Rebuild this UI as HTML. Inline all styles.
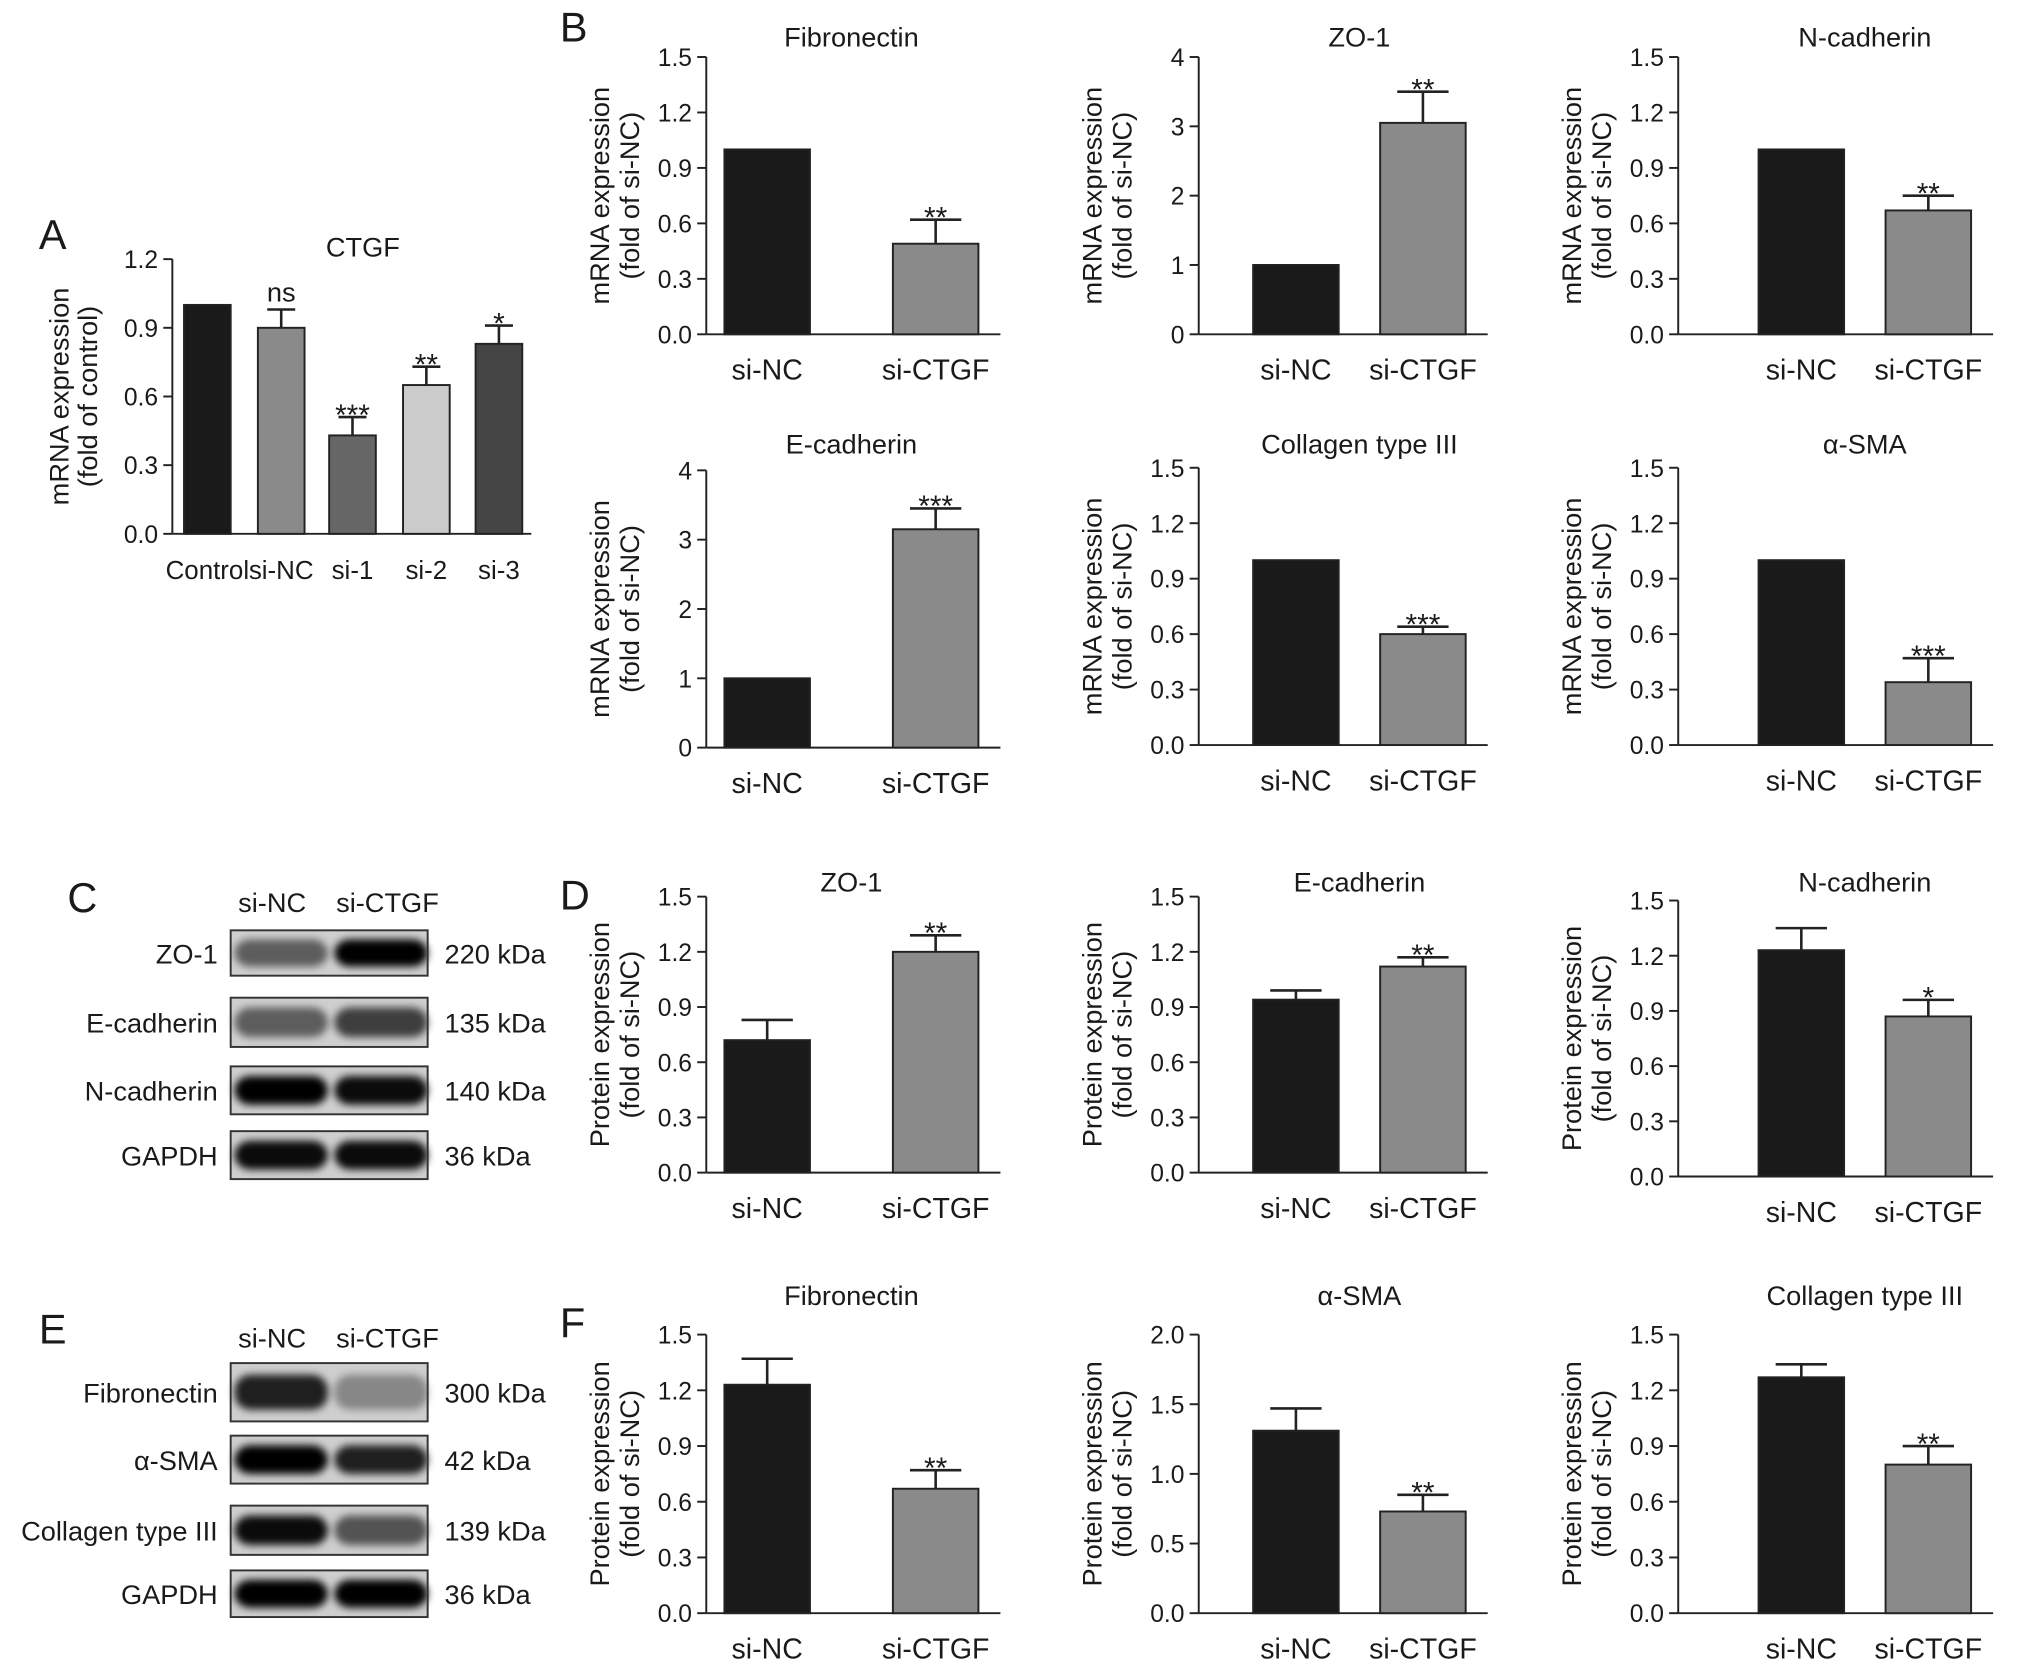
<!DOCTYPE html>
<html><head><meta charset="utf-8"><style>
html,body{margin:0;padding:0;background:#fff}
svg{display:block;font-family:"Liberation Sans",sans-serif}
</style></head><body>
<svg id="fig" width="2032" height="1665" viewBox="0 0 1568 1285" preserveAspectRatio="none">
<defs>
<filter id="blur" x="-20%" y="-50%" width="140%" height="200%"><feGaussianBlur stdDeviation="3"/></filter>
</defs>
</svg>
<script>
// Panel A data
const aCats=["Control","si-NC","si-1","si-2","si-3"];
const aVals=[1.0,0.9,0.43,0.65,0.83];
const aErr=[0,0.08,0.08,0.08,0.08];
const aStars=["","ns","***","**","*"];
const aColors=["#1a1a1a","#8a8a8a","#666","#cbcbcb","#454545"];
const aTicks=["0.0","0.3","0.6","0.9","1.2"];
// Two-group panels
const twoCats=["si-NC","si-CTGF"];
const pTitles=["Fibronectin","ZO-1","N-cadherin","E-cadherin","Collagen type III","α-SMA","ZO-1","E-cadherin","N-cadherin","Fibronectin","α-SMA","Collagen type III"];
const pNC=[1,1,1,1,1,1,0.72,0.94,1.23,1.23,1.31,1.27];
const pNCerr=[0,0,0,0,0,0,0.11,0.05,0.12,0.14,0.16,0.07];
const pKD=[0.49,3.05,0.67,3.15,0.6,0.34,1.2,1.12,0.87,0.67,0.73,0.8];
const pKDerr=[0.13,0.45,0.08,0.3,0.04,0.13,0.09,0.05,0.09,0.1,0.12,0.1];
const pStars=["**","**","**","***","***","***","**","**","*","**","**","**"];
const pMax=[1.5,4,1.5,4,1.5,1.5,1.5,1.5,1.5,1.5,2.0,1.5];
const pStep=[0.3,1,0.3,1,0.3,0.3,0.3,0.3,0.3,0.3,0.5,0.3];
const pDec=[1,0,1,0,1,1,1,1,1,1,1,1];

const NS="http://www.w3.org/2000/svg";
const svg=document.getElementById('fig');
function el(tag,attrs,parent){const e=document.createElementNS(NS,tag);for(const k in attrs)e.setAttribute(k,attrs[k]);(parent||svg).appendChild(e);return e;}
function txt(s,x,y,size,anchor,parent,extra){const t=el('text',Object.assign({x:x,y:y,'font-size':size,'text-anchor':anchor||'middle',fill:'#1a1a1a'},extra||{}),parent);t.textContent=s;return t;}

function chart(o){
  const g=el('g',{});
  
  
  const ys=v=>o.y0-(v/o.max)*(o.y0-o.yTop);
  const ax=el('line',{x1:o.ax,y1:o.yTop,x2:o.ax,y2:o.y0,stroke:'#222','stroke-width':1.5},g);
  
  
  const xl=el('line',{x1:o.ax,y1:o.y0,x2:o.xEnd,y2:o.y0,stroke:'#222','stroke-width':1.5},g);
  
  
  o.ticks.forEach(t=>{const y=ys(parseFloat(t));
    el('line',{x1:o.ax-7,y1:y,x2:o.ax,y2:y,stroke:'#222','stroke-width':1.5},g);
    const tl=txt(t,o.ax-11,y+7,19,'end',g);
    
    
  });
  o.vals.forEach((v,i)=>{
    const cx=o.centers[i],w=o.bw,top=ys(v);
    if(o.errs[i]>0){const ey=ys(v+o.errs[i]);
      el('line',{x1:cx,y1:top,x2:cx,y2:ey,stroke:'#222','stroke-width':2},g);
      el('line',{x1:cx-w*0.3,y1:ey,x2:cx+w*0.3,y2:ey,stroke:'#222','stroke-width':2},g);}
    const r=el('rect',{x:cx-w/2,y:top,width:w,height:o.y0-top,fill:o.colors[i],stroke:'#222','stroke-width':1.5},g);
    
    
    if(o.stars[i]){const sy=ys(v+o.errs[i])-4;
      const st=txt(o.stars[i],cx,o.stars[i]==='ns'?sy-2:sy+10,o.stars[i]==='ns'?21:23,'middle',g);
      
      }
    const cl=txt(o.cats[i],cx,o.y0+35,o.catSize||22,'middle',g);
    
    
  });
  const ti=txt(o.title,o.tx,o.ty,21,'middle',g);
  
  
  const my=(o.yTop+o.y0)/2;
  const l1=txt(o.yl1,0,0,21,'middle',g,{transform:`translate(${o.ax+o.off1},${my}) rotate(-90)`});
  
  
  const l2=txt(o.yl2,0,0,21,'middle',g,{transform:`translate(${o.ax+o.off2},${my}) rotate(-90)`});
  
  
}

// Panel A
chart({name:'panel-a-ctgf-chart',ax:133,y0:412,yTop:200,max:1.2,xEnd:410,ticks:aTicks,vals:aVals,errs:aErr,stars:aStars,colors:aColors,cats:aCats,catSize:20,
 centers:[160,217,272,329,385],bw:36,title:'CTGF',tx:280,ty:198,yl1:'mRNA expression',yl2:'(fold of control)',off1:-80,off2:-58});

const axX=[545,925,1295];
const layout=[[258,44],[258,44],[258,44],[577,363],[575,361],[575,361],[905,692],[905,692],[908,695],[1245,1030],[1245,1030],[1245,1030]];
const titleY=[36,36,36,350,350,350,688,688,688,1007,1007,1007];
for(let i=0;i<12;i++){
  const col=i%3,ax=axX[col];
  const ticks=[];for(let v=0;v<=pMax[i]+1e-9;v+=pStep[i])ticks.push(v.toFixed(pDec[i]));
  const c1=ax+(col===0?47:col===1?75:95),c2=c1+(col===0?130:98);
  const isMrna=i<6;
  chart({name:'panel-'+(isMrna?'b':(i<9?'d':'f'))+'-'+pTitles[i].toLowerCase().replace(/[^a-z0-9]+/g,'-')+'-chart',
    ax:ax,y0:layout[i][0],yTop:layout[i][1],max:pMax[i],xEnd:c2+50,ticks:ticks,
    vals:[pNC[i],pKD[i]],errs:[pNCerr[i],pKDerr[i]],stars:['',pStars[i]],colors:['#1a1a1a','#8a8a8a'],cats:twoCats,
    centers:[c1,c2],bw:66,title:pTitles[i],tx:(c1+c2)/2,ty:titleY[i],
    yl1:isMrna?'mRNA expression':'Protein expression',yl2:'(fold of si-NC)',off1:-75,off2:-52});
}

[["A",30,192],["B",432,32],["C",52,704],["D",432,702],["E",30,1037],["F",432,1032]].forEach(l=>{
  const t=txt(l[0],l[1],l[2],32,'start');
  
  
});

const cRows=["ZO-1","E-cadherin","N-cadherin","GAPDH"];
const cKDa=["220 kDa","135 kDa","140 kDa","36 kDa"];
const cY=[[718,753],[770,808],[823,860],[873,910]];
const cInt=[[0.55,1],[0.55,0.7],[1,0.95],[0.95,0.95]];
const eRows=["Fibronectin","α-SMA","Collagen type III","GAPDH"];
const eKDa=["300 kDa","42 kDa","139 kDa","36 kDa"];
const eY=[[1052,1097],[1108,1145],[1162,1200],[1212,1248]];
const eInt=[[0.85,0.35],[1,0.85],[0.95,0.6],[1,1]];
function blot(name,rows,kda,ys,ints,hy){
  const g=el('g',{});
  
  
  const h1=txt('si-NC',210,hy,21,'middle',g);
  
  
  const h2=txt('si-CTGF',299,hy,21,'middle',g);
  
  
  rows.forEach((r,i)=>{
    const [y1,y2]=ys[i],h=y2-y1,my=(y1+y2)/2;
    const bg=el('rect',{x:178,y:y1,width:152,height:h,fill:'#cfcfcf'},g);
    
    
    [217,294].forEach((cx,j)=>{const a=ints[i][j];
      el('rect',{x:cx-36,y:my-h*0.3,width:72,height:h*0.6,rx:12,fill:'#000','fill-opacity':a,filter:'url(#blur)'},g);});
    el('rect',{x:178,y:y1,width:152,height:h,fill:'none',stroke:'#333','stroke-width':1.5},g);
    const rl=txt(r,168,my+8,21,'end',g);
    
    
    const kl=txt(kda[i],343,my+8,21,'start',g);
    
    
  });
}
blot('panel-c-western-blot',cRows,cKDa,cY,cInt,704);
blot('panel-e-western-blot',eRows,eKDa,eY,eInt,1040);
</script>
</body></html>
